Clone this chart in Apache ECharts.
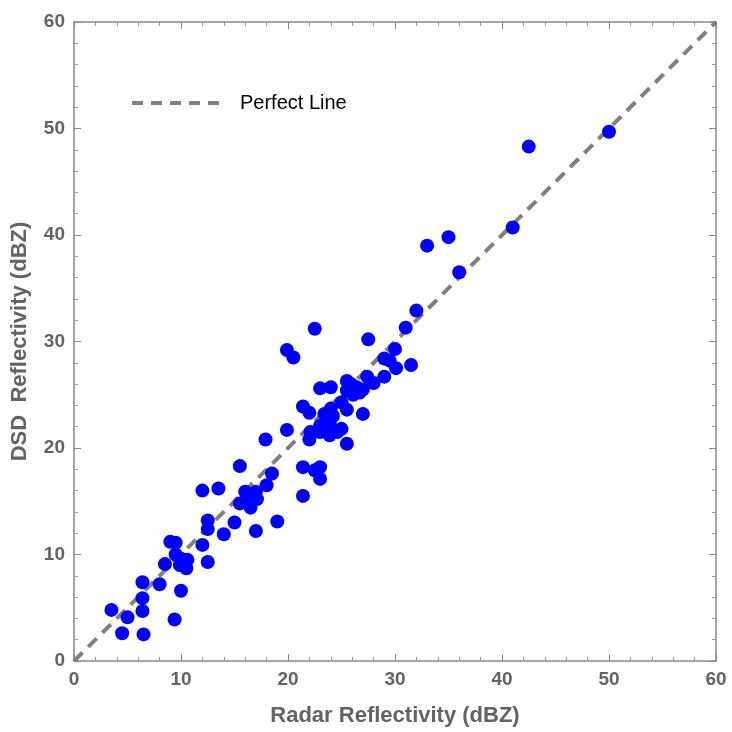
<!DOCTYPE html>
<html>
<head>
<meta charset="utf-8">
<script src="https://cdn.jsdelivr.net/npm/echarts@6/dist/echarts.min.js"></script>
<style>
  html, body { margin: 0; padding: 0; background: #fff; }
  #chart { width: 732px; height: 732px; }
</style>
</head>
<body>
<div id="chart"></div>
<script>
// radar vs DSD reflectivity pairs (dBZ)
const radarZ = [
  3.5, 5.0, 4.5, 6.5, 6.4, 6.4, 6.4, 8.0, 9.4, 10.0,
  8.5, 9.0, 9.5, 9.5, 10.0, 10.6, 9.9, 10.4, 10.5,
  12.0, 12.5, 12.5, 12.5, 14.0, 15.0, 17.0, 19.0, 12.0, 13.5,
  15.5, 15.5, 16.0, 16.2, 16.5, 16.5, 17.0, 17.1, 18.0, 18.5, 17.9, 19.9,
  21.4, 21.4, 22.5, 23.0, 23.0, 22.0, 22.1, 23.0, 23.0, 23.9, 24.0, 24.6, 25.0, 25.5,
  21.4, 22.0, 23.4, 24.0, 24.2, 23.9, 25.0, 25.5, 27.0, 23.0, 24.0,
  25.5, 25.9, 25.5, 26.1, 26.7, 27.0, 26.4, 27.4, 28.0, 29.0,
  29.0, 29.5, 30.1, 31.5, 30.0, 27.5, 22.5, 19.9, 20.5, 31.0, 32.0,
  33.0, 35.0, 36.0, 41.0, 42.5, 50.0
];
const dsdZ = [
  4.8, 4.1, 2.6, 2.5, 4.7, 5.9, 7.4, 7.2, 3.9, 6.6,
  9.1, 11.2, 11.1, 10.0, 9.6, 9.5, 9.0, 9.0, 8.7,
  10.9, 9.3, 12.4, 13.2, 11.9, 13.0, 12.2, 13.1, 16.0, 16.2,
  18.3, 14.8, 15.9, 15.1, 15.5, 14.4, 15.9, 15.2, 16.5, 17.6, 20.8, 21.7,
  15.5, 18.2, 17.9, 18.2, 17.1, 20.8, 21.5, 22.1, 21.5, 21.2, 21.9, 21.5, 21.8, 20.4,
  23.9, 23.3, 23.2, 23.7, 23.0, 22.4, 24.3, 23.6, 23.2, 25.6, 25.7,
  26.3, 26.0, 25.4, 25.0, 25.2, 25.5, 25.7, 26.7, 26.1, 26.7,
  28.4, 28.2, 27.5, 27.8, 29.3, 30.2, 31.2, 29.2, 28.5, 31.3, 32.9,
  39.0, 39.8, 36.5, 40.7, 48.3, 49.7
];
const perfectLine = [[0, 0], [60, 60]];
const axisMin = 0, axisMax = 60, axisStep = 10;

const chart = echarts.init(document.getElementById('chart'));
const gray = '#636363';
const font = 'Liberation Sans';

const frameAxis = (extra) => Object.assign({
  type: 'value',
  min: axisMin,
  max: axisMax,
  interval: axisStep,
  axisLine: { show: true, onZero: false, lineStyle: { color: '#888', width: 1.5 } },
  axisTick: { show: true, inside: true, length: 7, lineStyle: { color: '#888' } },
  minorTick: { show: true, splitNumber: 5, length: 4, lineStyle: { color: '#999' } },
  splitLine: { show: false },
  axisLabel: { show: false }
}, extra);

const label = {
  show: true,
  color: gray,
  fontFamily: font,
  fontWeight: 'bold',
  fontSize: 19,
  margin: 9
};

const nameStyle = { color: gray, fontFamily: font, fontWeight: 'bold', fontSize: 22 };

chart.setOption({
  animation: false,
  grid: { left: 74, right: 16, top: 22, bottom: 69 },
  legend: {
    left: 125,
    top: 88,
    itemWidth: 90,
    itemHeight: 22,
    itemStyle: { opacity: 0 },
    lineStyle: { width: 4, type: [11, 8] },
    textStyle: { fontFamily: font, fontSize: 20, color: '#000', padding: [0, 0, 0, 13] },
    data: ['Perfect Line']
  },
  xAxis: [
    frameAxis({
      position: 'bottom',
      axisLabel: label,
      name: 'Radar Reflectivity (dBZ)',
      nameLocation: 'middle',
      nameGap: 44,
      nameTextStyle: nameStyle
    }),
    frameAxis({ position: 'top' })
  ],
  yAxis: [
    frameAxis({
      position: 'left',
      axisLabel: label,
      name: 'DSD  Reflectivity (dBZ)',
      nameLocation: 'middle',
      nameGap: 43,
      nameTextStyle: nameStyle
    }),
    frameAxis({ position: 'right' })
  ],
  series: [
    {
      name: 'Perfect Line',
      type: 'line',
      data: perfectLine,
      symbol: 'none',
      lineStyle: { color: '#808080', width: 4, type: [12, 8] },
      itemStyle: { color: '#808080' },
      z: 1
    },
    {
      name: 'Observations',
      type: 'scatter',
      data: radarZ.map((x, i) => [x, dsdZ[i]]),
      symbolSize: 14,
      itemStyle: { color: '#0000ff', opacity: 1 },
      z: 2
    }
  ]
});
</script>
</body>
</html>
